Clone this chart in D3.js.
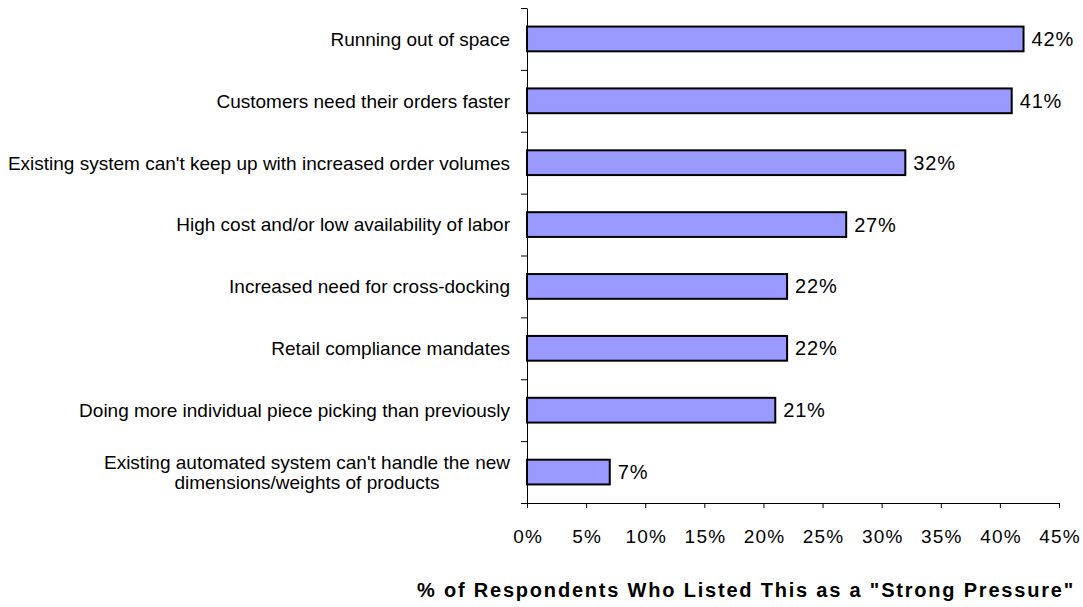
<!DOCTYPE html>
<html>
<head>
<meta charset="utf-8">
<script src="https://cdn.jsdelivr.net/npm/d3@7"></script>
<style>
  html, body { margin: 0; padding: 0; background: #ffffff; }
  svg { display: block; }
  text { font-family: "Liberation Sans", Arial, sans-serif; fill: #000; }
</style>
</head>
<body>
<svg id="chart" width="1083" height="607"></svg>
<script>
const categories = [
  "Running out of space",
  "Customers need their orders faster",
  "Existing system can't keep up with increased order volumes",
  "High cost and/or low availability of labor",
  "Increased need for cross-docking",
  "Retail compliance mandates",
  "Doing more individual piece picking than previously",
  "Existing automated system can't handle the new\ndimensions/weights of products"
];
const values = [42, 41, 32, 27, 22, 22, 21, 7];
const xTicks = [0, 5, 10, 15, 20, 25, 30, 35, 40, 45];
const axisTitle = "% of Respondents Who Listed This as a \"Strong Pressure\"";

const svg = d3.select("#chart");
const plot = { left: 527, right: 1059, top: 8, bottom: 503 };

const x = d3.scaleLinear().domain([0, 45]).range([plot.left, plot.right]);
const y = d3.scaleBand().domain(categories).range([plot.top, plot.bottom])
  .paddingInner(0.6).paddingOuter(0.3);
const yb = d3.scaleLinear().domain([0, categories.length]).range([plot.top, plot.bottom]);

// Bars
svg.append("g").selectAll("rect").data(values).join("rect")
  .attr("x", x(0))
  .attr("y", (d, i) => y(categories[i]))
  .attr("width", d => x(d) - x(0))
  .attr("height", y.bandwidth())
  .attr("fill", "#9999ff")
  .attr("stroke", "#000")
  .attr("stroke-width", 2);

// Value labels
svg.append("g").selectAll("text").data(values).join("text")
  .attr("x", d => x(d) + 8)
  .attr("y", (d, i) => y(categories[i]) + y.bandwidth() / 2)
  .attr("dy", "0.35em")
  .attr("font-size", 20)
  .attr("letter-spacing", "0.8px")
  .text(d => d + "%");

// X axis
const xAxis = svg.append("g")
  .attr("transform", `translate(0,${plot.bottom})`)
  .call(d3.axisBottom(x).tickValues(xTicks).tickFormat(d => d + "%")
    .tickSizeInner(5).tickSizeOuter(0).tickPadding(22));
xAxis.select(".domain").attr("stroke", "#000").attr("stroke-width", 1);
xAxis.selectAll(".tick line").attr("stroke", "#000");
xAxis.selectAll(".tick text").attr("font-size", 19)
  .attr("font-family", "Liberation Sans, Arial, sans-serif")
  .attr("letter-spacing", "1.2px")
  .attr("dx", "0.6px");

// Y axis (ticks at category boundaries)
const yAxis = svg.append("g")
  .attr("transform", `translate(${plot.left},0)`)
  .call(d3.axisLeft(yb).ticks(categories.length).tickFormat("")
    .tickSizeInner(6).tickSizeOuter(0));
yAxis.select(".domain").attr("stroke", "#000").attr("stroke-width", 1);
yAxis.selectAll(".tick line").attr("stroke", "#000");

// Category labels
const labelRight = plot.left - 17;
const lg = svg.append("g");
categories.forEach((c, i) => {
  const lines = c.split("\n");
  const cy = y(c) + y.bandwidth() / 2;
  const lh = 20;
  const t = lg.append("text").attr("font-size", 19);
  lines.forEach((ln, j) => {
    t.append("tspan")
      .attr("y", cy + (j - (lines.length - 1) / 2) * lh)
      .attr("dy", "0.36em")
      .text(ln);
  });
  if (lines.length === 1) {
    t.attr("text-anchor", "end").selectAll("tspan").attr("x", labelRight);
  } else {
    let maxW = 0;
    t.selectAll("tspan").each(function() { maxW = Math.max(maxW, this.getComputedTextLength()); });
    t.attr("text-anchor", "middle").selectAll("tspan").attr("x", labelRight - maxW / 2);
  }
});

// Axis title
svg.append("text")
  .attr("x", 746)
  .attr("y", 597)
  .attr("text-anchor", "middle")
  .attr("font-size", 20)
  .attr("font-weight", "bold")
  .attr("letter-spacing", "1.8px")
  .text(axisTitle);
</script>
</body>
</html>
